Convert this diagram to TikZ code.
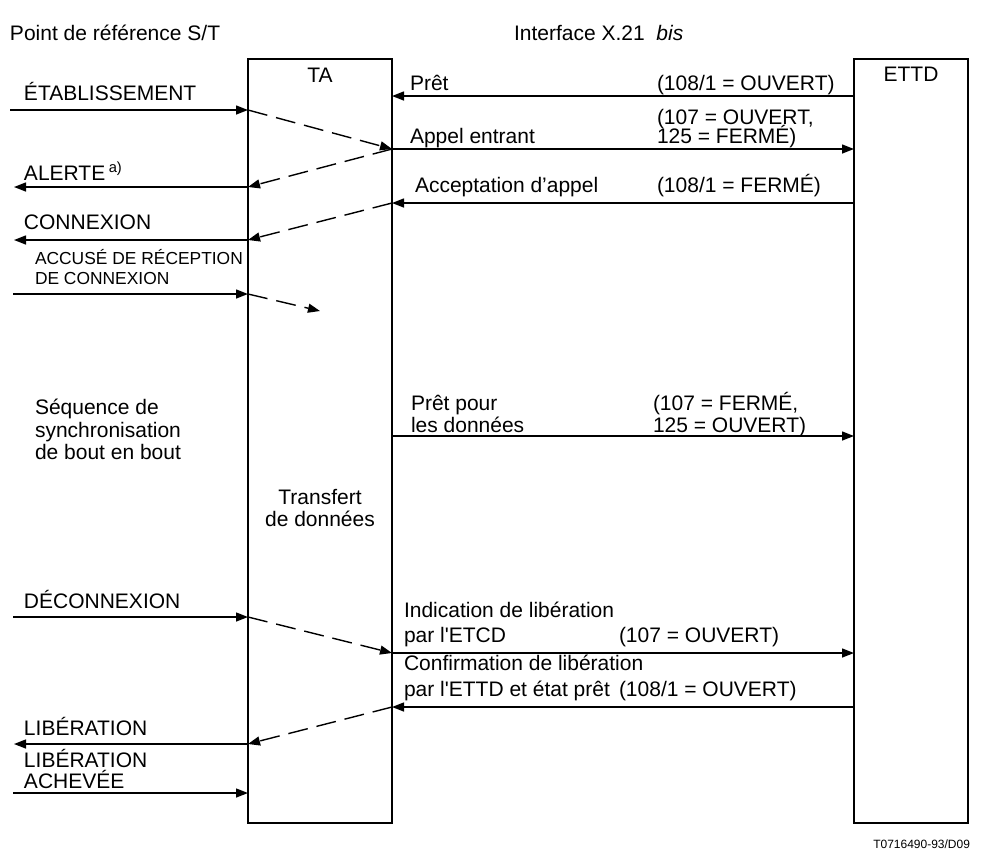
\documentclass[tikz,border=0pt]{standalone}
\usepackage{fontspec}
\setmainfont{Liberation Sans}
\newfontfamily\plainfont{Liberation Sans}[Ligatures=ResetAll]
\usetikzlibrary{arrows.meta}
\begin{document}
\begin{tikzpicture}[x=0.5pt,y=-0.5pt,
  every node/.style={inner sep=0pt,outer sep=0pt,font=\fontsize{10.5}{12}\selectfont},
  lbl/.style={anchor=base west},
  small/.style={anchor=base west,font=\fontsize{8.7}{10}\selectfont},
  unit/.style={draw,line width=0.9pt,minimum width=0pt},
  msg/.style={line width=0.7pt,-{Triangle[length=6pt,width=4.5pt]}},
  dmsg/.style={msg,dash pattern=on 10pt off 4.5pt}]
\useasboundingbox (0,0) rectangle (986,852);

% headings
\node[lbl] (refpt) at (10,40) {Point de référence S/T};
\node[lbl] (iface) at (514,40) {Interface X.21\ \ \textit{bis}};

% the two units
\draw[unit] (248,59) rectangle (392,823);
\draw[unit] (854,59) rectangle (968,823);
\node (ta) at (320,82) [anchor=base] {TA};
\node (ettd) at (911,81) [anchor=base] {ETTD};

% end points on the S/T side
\coordinate (l1) at (10,110);
\coordinate (l2) at (14,187);
\coordinate (l3) at (14,240);
\coordinate (l4) at (13,294);
\coordinate (l5) at (13,617);
\coordinate (l6) at (14,744);
\coordinate (l7) at (13,793);
% TA left edge
\coordinate (a1) at (248,110);
\coordinate (a2) at (248,187);
\coordinate (a3) at (248,240);
\coordinate (a4) at (248,294);
\coordinate (a5) at (248,617);
\coordinate (a6) at (248,744);
\coordinate (a7) at (248,793);
% TA right edge
\coordinate (b0) at (392,96);
\coordinate (b1) at (392,149);
\coordinate (b2) at (392,203);
\coordinate (b3) at (392,436);
\coordinate (b4) at (392,653);
\coordinate (b5) at (392,707);
% ETTD left edge
\coordinate (c0) at (854,96);
\coordinate (c1) at (854,149);
\coordinate (c2) at (854,203);
\coordinate (c3) at (854,436);
\coordinate (c4) at (854,653);
\coordinate (c5) at (854,707);
\coordinate (ackend) at (320,311);

% S/T side messages
\draw[msg] (l1) -- (a1);
\draw[msg] (a2) -- (l2);
\draw[msg] (a3) -- (l3);
\draw[msg] (l4) -- (a4);
\draw[msg] (l5) -- (a5);
\draw[msg] (a6) -- (l6);
\draw[msg] (l7) -- (a7);

% X.21 bis side messages
\draw[msg] (c0) -- (b0);
\draw[msg] (b1) -- (c1);
\draw[msg] (c2) -- (b2);
\draw[msg] (b3) -- (c3);
\draw[msg] (b4) -- (c4);
\draw[msg] (c5) -- (b5);

% mapping inside the TA
\draw[dmsg] (a1) -- (b1);
\draw[dmsg] (b1) -- (a2);
\draw[dmsg] (b2) -- (a3);
\draw[dmsg] (a4) -- (ackend);
\draw[dmsg] (a5) -- (b4);
\draw[dmsg] (b5) -- (a6);

% S/T labels
\node[lbl] (t-etab) at (24,100) {ÉTABLISSEMENT};
\node[lbl] (t-alert) at (24,180) {ALERTE\,\textsuperscript{a)}};
\node[lbl] (t-conn) at (24,229) {CONNEXION};
\node[small] (t-ack1) at (35,264) {ACCUSÉ DE RÉCEPTION};
\node[small] (t-ack2) at (35,284) {DE CONNEXION};
\node[lbl] (t-seq1) at (35,414) {Séquence de};
\node[lbl] (t-seq2) at (35,437) {synchronisation};
\node[lbl] (t-seq3) at (35,459) {de bout en bout};
\node[lbl] (t-disc) at (24,608) {DÉCONNEXION};
\node[lbl] (t-rel) at (24,735) {LIBÉRATION};
\node[lbl] (t-relc1) at (24,767) {LIBÉRATION};
\node[lbl] (t-relc2) at (24,788) {ACHEVÉE};

% TA body
\node[anchor=base] (t-xfer1) at (320,504) {Transfert};
\node[anchor=base] (t-xfer2) at (320,526) {de données};

% X.21 bis labels
\node[lbl] (r-ready) at (410,90) {Prêt};
\node[lbl] (s-ready) at (657,90) {(108/1 = OUVERT)};
\node[lbl] (s-inc1) at (657,124) {(107 = OUVERT,};
\node[lbl] (s-inc2) at (657,143) {125 = FERMÉ)};
\node[lbl] (r-inc) at (410,143) {Appel entrant};
\node[lbl] (r-acc) at (415,192) {Acceptation d’appel};
\node[lbl] (s-acc) at (657,192) {(108/1 = FERMÉ)};
\node[lbl] (r-data1) at (411,410) {Prêt pour};
\node[lbl] (r-data2) at (411,432) {les données};
\node[lbl] (s-data1) at (653,410) {(107 = FERMÉ,};
\node[lbl] (s-data2) at (653,432) {125 = OUVERT)};
\node[lbl] (r-ind1) at (404,617) {Indication de libération};
\node[lbl] (r-ind2) at (404,642) {\plainfont par l'ETCD};
\node[lbl] (s-ind) at (619,642) {(107 = OUVERT)};
\node[lbl] (r-conf1) at (404,670) {Confirmation de libération};
\node[lbl] (r-conf2) at (404,696) {\plainfont par l'ETTD et état prêt};
\node[lbl] (s-conf) at (619,696) {(108/1 = OUVERT)};

% figure reference
\node[anchor=base east,font=\fontsize{6}{7}\selectfont] (figref) at (970,848) {T0716490-93/D09};
\end{tikzpicture}
\end{document}
